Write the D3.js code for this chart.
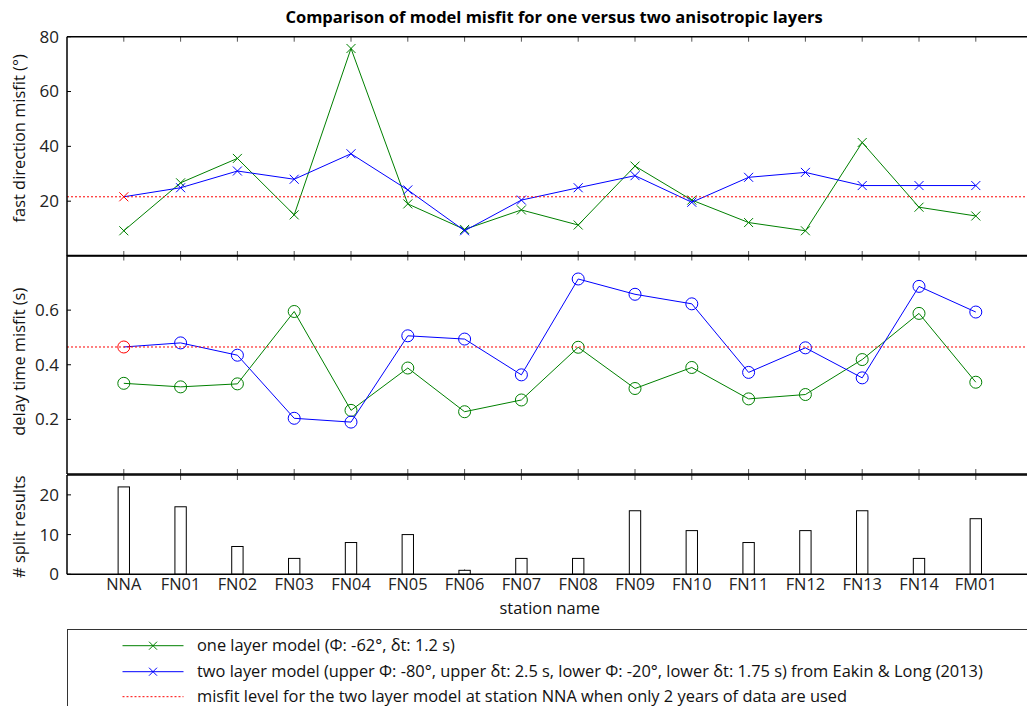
<!DOCTYPE html>
<html><head><meta charset="utf-8">
<script src="https://cdn.jsdelivr.net/npm/d3@7"></script>
<style>
html,body{margin:0;padding:0;background:#fff;}
svg{display:block;font-family:"Open Sans",sans-serif;}
</style></head>
<body>
<svg id="c" width="1027" height="706"></svg>
<script>
const stations = ["NNA","FN01","FN02","FN03","FN04","FN05","FN06","FN07","FN08","FN09","FN10","FN11","FN12","FN13","FN14","FM01"];
const fastOne = [9.2,26.7,35.6,15,75.7,19,9.7,16.8,11.3,32.8,20.4,12.2,9.2,41.4,17.8,14.6];
const fastTwo = [21.6,24.9,31,28,37.3,24.1,9.2,20.4,24.9,29.3,19.6,28.7,30.5,25.7,25.7,25.7];
const delayOne = [0.332,0.319,0.330,0.595,0.233,0.388,0.228,0.271,0.464,0.313,0.390,0.275,0.291,0.419,0.588,0.336];
const delayTwo = [0.465,0.480,0.435,0.204,0.190,0.506,0.494,0.363,0.714,0.658,0.623,0.372,0.462,0.352,0.687,0.593];
const splitCounts = [22,17,7,4,8,10,1,4,4,16,11,8,11,16,4,14];
const fastTicks = [20,40,60,80];
const delayTicks = [0.2,0.4,0.6];
const splitTicks = [0,10,20];
const fastRef = 21.6;
const delayRef = 0.465;
const legendLabels = [
  "one layer model (\u03A6: -62\u00B0, \u03B4t: 1.2 s)",
  "two layer model (upper \u03A6: -80\u00B0, upper \u03B4t: 2.5 s, lower \u03A6: -20\u00B0, lower \u03B4t: 1.75 s) from Eakin & Long (2013)",
  "misfit level for the two layer model at station NNA when only 2 years of data are used"
];

const GREEN = "#008000", BLUE = "#0000ff", RED = "#ff0000";
const svg = d3.select("#c");
svg.append("rect").attr("width",1027).attr("height",706).attr("fill","#fff");

const x = d3.scaleLinear().domain([0,17]).range([67, 67+17*56.8]);
const idx = d3.range(stations.length).map(i=>i+1);

const yTop = d3.scaleLinear().domain([0,80]).range([256,36.7]);
const yMid = d3.scaleLinear().domain([0,0.8]).range([474,255.5]);
const yBot = d3.scaleLinear().domain([0,25]).range([574.3,475]);

svg.append("defs").append("clipPath").attr("id","clip")
  .append("rect").attr("x",x(0)).attr("y",0).attr("width",x(17)-x(0)).attr("height",706);

function panel(y, ticks, fmt, label, labelX, labelShift){
  const g = svg.append("g");
  const [y0,y1] = y.range();
  g.selectAll(".yt").data(ticks).join("line")
    .attr("x1",x(0)).attr("x2",x(0)+4)
    .attr("y1",d=>y(d)).attr("y2",d=>y(d)).attr("stroke","#000").attr("stroke-width",1);
  g.selectAll(".yl").data(ticks).join("text")
    .attr("x",x(0)-8).attr("y",d=>y(d)).attr("dy","0.35em")
    .attr("text-anchor","end").attr("font-size",17).attr("fill","#222")
    .text(fmt);
  g.selectAll(".xtt").data(idx).join("line")
    .attr("x1",d=>x(d)).attr("x2",d=>x(d)).attr("y1",y1).attr("y2",y1+5)
    .attr("stroke","#555").attr("stroke-width",1);
  g.selectAll(".xtb").data(idx).join("line")
    .attr("x1",d=>x(d)).attr("x2",d=>x(d)).attr("y1",y0).attr("y2",y0-5)
    .attr("stroke","#555").attr("stroke-width",1);
  g.append("text").attr("transform",`translate(${labelX},${(y0+y1)/2+labelShift}) rotate(-90)`)
    .attr("text-anchor","middle").attr("font-size",16.4).attr("fill","#111").text(label);
  return g;
}

panel(yTop, fastTicks, d=>d, "fast direction misfit (\u00B0)", 25, -8);
panel(yMid, delayTicks, d=>d.toFixed(1), "delay time misfit (s)", 25, -3);
panel(yBot, splitTicks, d=>d, "# split results", 25, 2);

const plot = svg.append("g").attr("clip-path","url(#clip)");

function crosses(g, data, y, color, s, off){
  g.selectAll(null).data(data).join("path")
    .attr("d",(d,i)=>{const cx=x(i+1+off), cy=y(d);
      return `M${cx-s},${cy-s}L${cx+s},${cy+s}M${cx-s},${cy+s}L${cx+s},${cy-s}`;})
    .attr("stroke",color).attr("stroke-width",1).attr("fill","none");
}
function circles(g, data, y, color, r, off){
  g.selectAll(null).data(data).join("circle")
    .attr("cx",(d,i)=>x(i+1+off)).attr("cy",d=>y(d)).attr("r",r)
    .attr("stroke",color).attr("stroke-width",1).attr("fill","none");
}
function series(data, y, color, marker, skipFirst){
  const line = d3.line().x((d,i)=>x(i+1)).y(d=>y(d));
  plot.append("path").datum(data).attr("d",line).attr("fill","none")
    .attr("stroke",color).attr("stroke-width",1);
  const g = plot.append("g");
  const md = skipFirst ? data.slice(1) : data;
  const off = skipFirst ? 1 : 0;
  if(marker==="x") crosses(g,md,y,color,4.5,off); else circles(g,md,y,color,6,off);
}

series(fastOne, yTop, GREEN, "x", false);
series(fastTwo, yTop, BLUE, "x", true);
plot.append("line").attr("x1",x(0)).attr("x2",x(17)).attr("y1",yTop(fastRef)).attr("y2",yTop(fastRef))
  .attr("stroke",RED).attr("stroke-width",1).attr("stroke-dasharray","2,2");
crosses(plot.append("g"), [fastTwo[0]], yTop, RED, 4.5, 0);

series(delayOne, yMid, GREEN, "o", false);
series(delayTwo, yMid, BLUE, "o", true);
plot.append("line").attr("x1",x(0)).attr("x2",x(17)).attr("y1",yMid(delayRef)).attr("y2",yMid(delayRef))
  .attr("stroke",RED).attr("stroke-width",1).attr("stroke-dasharray","2,2");
circles(plot.append("g"), [delayTwo[0]], yMid, RED, 6, 0);

const bw = 0.2;
plot.selectAll(".bar").data(splitCounts).join("rect")
  .attr("x",(d,i)=>x(i+1-bw/2)).attr("width",x(bw)-x(0))
  .attr("y",d=>yBot(d)).attr("height",d=>yBot(0)-yBot(d))
  .attr("fill","#fff").attr("stroke","#000").attr("stroke-width",1);

const fr = svg.append("g").attr("fill","none").attr("stroke","#000");
[yTop,yMid,yBot].forEach(y=>{
  const [y0,y1]=y.range();
  fr.append("line").attr("x1",x(0)).attr("x2",1027).attr("y1",y0).attr("y2",y0).attr("stroke-width",1.5);
  fr.append("line").attr("x1",x(0)).attr("x2",1027).attr("y1",y1).attr("y2",y1).attr("stroke-width",1.5);
  fr.append("line").attr("x1",x(0)).attr("x2",x(0)).attr("y1",y1).attr("y2",y0).attr("stroke-width",1.5);
});

svg.selectAll(".xl").data(stations).join("text")
  .attr("x",(d,i)=>x(i+1)).attr("y",590).attr("text-anchor","middle")
  .attr("font-size",16.4).attr("fill","#222").text(d=>d);
svg.append("text").attr("x",x(8.5)).attr("y",614).attr("text-anchor","middle")
  .attr("font-size",16.4).attr("fill","#111").text("station name");

svg.append("text").attr("x",554).attr("y",23).attr("text-anchor","middle")
  .attr("font-size",16.5).attr("font-weight","bold").attr("fill","#000")
  .text("Comparison of model misfit for one versus two anisotropic layers");

const lg = svg.append("g");
lg.append("rect").attr("x",67.5).attr("y",629.5).attr("width",1000).attr("height",200)
  .attr("fill","#fff").attr("stroke","#333").attr("stroke-width",1);
const rowsY = [645.7, 671.7, 696.7];
const lcols = [GREEN, BLUE, RED];
rowsY.forEach((ry,i)=>{
  lg.append("line").attr("x1",122.5).attr("x2",183.5).attr("y1",ry).attr("y2",ry)
    .attr("stroke",lcols[i]).attr("stroke-width",1)
    .attr("stroke-dasharray", i===2?"2,2":null);
  if(i<2){
    const s=4; const cx=153;
    lg.append("path").attr("d",`M${cx-s},${ry-s}L${cx+s},${ry+s}M${cx-s},${ry+s}L${cx+s},${ry-s}`)
      .attr("stroke",lcols[i]).attr("stroke-width",1);
  }
  lg.append("text").attr("x",197).attr("y",ry).attr("dy","0.35em")
    .attr("font-size",16.4).attr("fill","#111").text(legendLabels[i]);
});
</script>
</body></html>
